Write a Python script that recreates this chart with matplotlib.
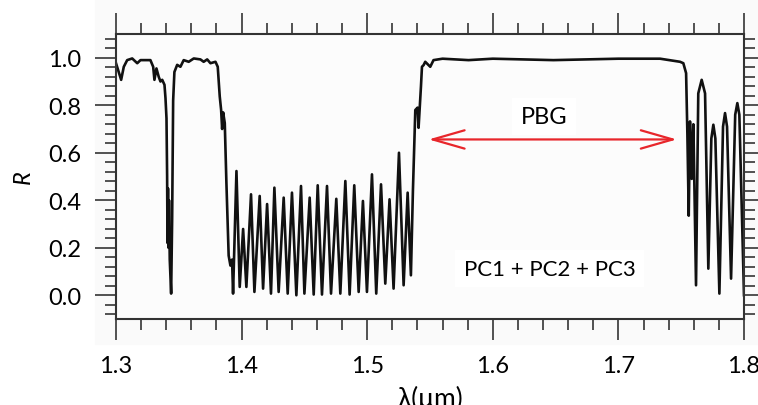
import matplotlib

matplotlib.use("Agg")
import matplotlib.pyplot as plt
from matplotlib.patches import Rectangle
from matplotlib.ticker import MultipleLocator

plt.rcParams["font.family"] = ["Lato", "DejaVu Sans"]

# reflectance R vs wavelength (um)
# short-wavelength band with the 1.344 um dip
lam_left = [1.3000, 1.3041, 1.3062, 1.3089, 1.3129, 1.3169, 1.3195, 1.3274, 1.3296,
            1.3306, 1.3322, 1.3340, 1.3354, 1.3368, 1.3386, 1.3394, 1.3402, 1.3407,
            1.3410, 1.3414, 1.3418, 1.3422, 1.3428, 1.3439, 1.3447, 1.3455, 1.3465,
            1.3487, 1.3513, 1.3539, 1.3579, 1.3619, 1.3672, 1.3698, 1.3726, 1.3752,
            1.3792, 1.3810, 1.3826, 1.3837, 1.3845, 1.3853, 1.3866, 1.3879, 1.3897,
            1.3911, 1.3924, 1.3932]
r_left = [0.977, 0.907, 0.962, 0.990, 0.997, 0.977, 0.990, 0.990, 0.962,
          0.907, 0.955, 0.920, 0.900, 0.907, 0.886, 0.830, 0.745, 0.502,
          0.220, 0.450, 0.200, 0.400, 0.150, 0.007, 0.320, 0.820, 0.940,
          0.970, 0.962, 0.990, 0.983, 0.997, 0.993, 0.983, 0.993, 0.977,
          0.983, 0.962, 0.837, 0.780, 0.700, 0.770, 0.725, 0.474, 0.167,
          0.125, 0.150, 0.007]

# side-lobe oscillations, peaks and troughs
lam_osc = [1.3959, 1.3985, 1.4012, 1.4038, 1.4075, 1.4102, 1.4144, 1.4171, 1.4203,
           1.4234, 1.4261, 1.4295, 1.4335, 1.4367, 1.4401, 1.4436, 1.4473, 1.4500,
           1.4542, 1.4574, 1.4606, 1.4640, 1.4680, 1.4712, 1.4754, 1.4786, 1.4826,
           1.4860, 1.4897, 1.4932, 1.4966, 1.4998, 1.5038, 1.5072, 1.5110, 1.5144,
           1.5178, 1.5210, 1.5253, 1.5290, 1.5322, 1.5348, 1.5364]
r_osc = [0.523, 0.035, 0.279, 0.035, 0.425, 0.014, 0.418, 0.028, 0.384,
         0.007, 0.453, 0.014, 0.411, 0.007, 0.432, 0.000, 0.460, 0.007,
         0.411, 0.003, 0.463, 0.003, 0.460, 0.007, 0.406, 0.007, 0.481,
         0.003, 0.463, 0.014, 0.397, 0.014, 0.509, 0.007, 0.467, 0.049,
         0.404, 0.028, 0.600, 0.042, 0.432, 0.084, 0.440]

# photonic band gap plateau
lam_pbg = [1.5383, 1.5401, 1.5409, 1.5428, 1.5436, 1.5449, 1.5462, 1.5502, 1.5528,
           1.5600, 1.5807, 1.6000, 1.6483, 1.7000, 1.7332, 1.7491, 1.7517, 1.7539]
r_pbg = [0.780, 0.790, 0.705, 0.879, 0.962, 0.969, 0.983, 0.962, 0.990,
         0.996, 0.990, 0.996, 0.990, 0.996, 0.996, 0.983, 0.977, 0.935]

# long-wavelength edge
lam_right = [1.7549, 1.7560, 1.7570, 1.7584, 1.7597, 1.7618, 1.7636, 1.7663, 1.7690,
             1.7716, 1.7740, 1.7756, 1.7772, 1.7804, 1.7833, 1.7849, 1.7865, 1.7897,
             1.7930, 1.7947, 1.7963, 1.8000]
r_right = [0.684, 0.335, 0.732, 0.490, 0.720, 0.042, 0.850, 0.907, 0.850,
           0.112, 0.660, 0.718, 0.660, 0.007, 0.710, 0.767, 0.710, 0.070,
           0.760, 0.809, 0.760, 0.000]

lam = lam_left + lam_osc + lam_pbg + lam_right
refl = r_left + r_osc + r_pbg + r_right

fig = plt.figure(figsize=(7.58, 4.06), dpi=100)
fig.patches.append(Rectangle((95 / 758, 1 - 345 / 406), 1 - 95 / 758, 345 / 406,
                             transform=fig.transFigure, color="#fafafa", zorder=-10))
ax = fig.add_axes([116 / 758, 1 - 320 / 406, 628 / 758, 285 / 406])
ax.set_facecolor("#fcfcfc")

ax.plot(lam, refl, color="#111111", lw=1.9, solid_joinstyle="round")

ax.annotate("", xy=(1.5489, 0.656), xytext=(1.7465, 0.656),
            arrowprops=dict(arrowstyle="<->,head_length=1.15,head_width=0.33",
                            color="#e8262b", lw=1.6, mutation_scale=20,
                            shrinkA=0, shrinkB=0))
ax.text(1.6408, 0.753, "PBG", fontsize=17, ha="center", va="center",
        bbox=dict(facecolor="white", edgecolor="none", pad=6))
ax.text(1.6453, 0.112, "PC1 + PC2 + PC3", fontsize=16, ha="center", va="center",
        bbox=dict(facecolor="white", edgecolor="none", pad=6))

ax.set_xlim(1.3, 1.8)
ax.set_ylim(-0.1, 1.1)
ax.set_xticks([1.3, 1.4, 1.5, 1.6, 1.7, 1.8])
ax.set_xticklabels(["1.3", "1.4", "1.5", "1.6", "1.7", "1.8"])
ax.set_yticks([0.0, 0.2, 0.4, 0.6, 0.8, 1.0])
ax.set_yticklabels(["0.0", "0.2", "0.4", "0.6", "0.8", "1.0"])
ax.xaxis.set_minor_locator(MultipleLocator(0.02))
ax.yaxis.set_minor_locator(MultipleLocator(0.04))
ax.tick_params(which="both", direction="out", top=True, right=True,
               labeltop=False, labelright=False, color="#444444", labelsize=17)
ax.tick_params(which="major", length=15, width=1.3)
ax.tick_params(which="minor", length=8, width=1.3)
ax.tick_params(axis="x", which="major", pad=11)
ax.tick_params(axis="y", which="major", pad=10)
for s in ax.spines.values():
    s.set_color("#333333")
    s.set_linewidth(1.5)

ax.set_xlabel("λ(μm)", fontsize=19, labelpad=6)
ax.set_ylabel("R", fontsize=17, style="italic", labelpad=10)

fig.savefig("out.png", dpi=100)
